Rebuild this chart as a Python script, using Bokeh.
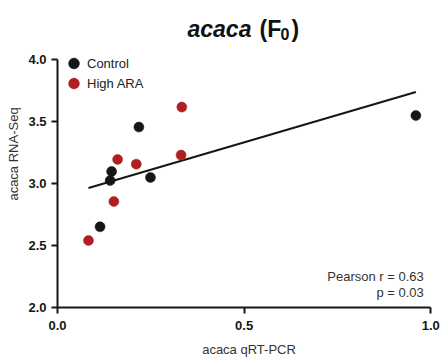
import numpy as np
from bokeh.plotting import figure
from bokeh.models import Range1d, Label, Legend, LegendItem, FixedTicker, NumeralTickFormatter
from bokeh.embed import file_html
from bokeh.resources import INLINE

# ---- data ----
control_x = [0.960, 0.218, 0.249, 0.145, 0.141, 0.114]
control_y = [3.548, 3.455, 3.048, 3.097, 3.024, 2.651]
ara_x = [0.333, 0.331, 0.161, 0.211, 0.151, 0.083]
ara_y = [3.616, 3.229, 3.194, 3.156, 2.855, 2.540]
series_names = ["Control", "High ARA"]
x_ticks = [0.0, 0.5, 1.0]
y_ticks = [2.0, 2.5, 3.0, 3.5, 4.0]
title_parts = ["acaca", "(F", "0", ")"]
stats_lines = ["Pearson r = 0.63", "p = 0.03"]
x_label = "acaca qRT-PCR"
y_label = "acaca RNA-Seq"

BLACK = "#161616"
RED = "#B11E22"
FONT = "Liberation Sans"

# regression line from the data
all_x = np.array(control_x + ara_x)
all_y = np.array(control_y + ara_y)
slope, intercept = np.polyfit(all_x, all_y, 1)
fit_x = [float(all_x.min()), float(all_x.max())]
fit_y = [slope * v + intercept for v in fit_x]

W, H = 440, 359
LEFT, BOTTOM = 57, 52
PAGE_X, PAGE_Y = 0, 0        # where the canvas lands in the photographed picture
X0_PX = PAGE_X + LEFT        # x = 0.0
X1_PX = 430.3                # x = 1.0
Y0_PX = PAGE_Y + H - BOTTOM  # y = 2.0
PX_PER_Y = 124.0

def px_to_x(px):
    return (px - X0_PX) / (X1_PX - X0_PX)

def py_to_y(py):
    return 2 + (Y0_PX - py) / PX_PER_Y

x_end = px_to_x(PAGE_X + W)
y_end = py_to_y(PAGE_Y)

p = figure(width=W, height=H, x_range=Range1d(0, x_end), y_range=Range1d(2, y_end),
           output_backend="svg", toolbar_location=None,
           min_border_left=LEFT, min_border_right=0, min_border_top=0, min_border_bottom=BOTTOM)
p.outline_line_color = None
p.grid.grid_line_color = None

for ax, ticks in ((p.xaxis, x_ticks), (p.yaxis, y_ticks)):
    ax.ticker = FixedTicker(ticks=ticks, minor_ticks=[])
    ax.bounds = (ticks[0], ticks[-1])
    ax.formatter = NumeralTickFormatter(format="0.0")
    ax.axis_line_width = 2
    ax.axis_line_color = BLACK
    ax.major_tick_line_width = 2
    ax.major_tick_line_color = BLACK
    ax.major_tick_out = 6
    ax.major_tick_in = 0
    ax.minor_tick_out = 0
    ax.minor_tick_in = 0
    ax.major_label_text_font = FONT
    ax.major_label_text_font_style = "bold"
    ax.major_label_text_font_size = "13px"
    ax.major_label_text_color = BLACK
    ax.axis_label_text_font = FONT
    ax.axis_label_text_font_style = "normal"
    ax.axis_label_text_font_size = "13px"
    ax.axis_label_text_color = "#333333"

p.xaxis.axis_label = x_label
p.yaxis.axis_label = y_label
p.xaxis.major_label_standoff = 7
p.xaxis.axis_label_standoff = 9
p.yaxis.major_label_standoff = 5
p.yaxis.axis_label_standoff = 4

p.line(fit_x, fit_y, line_color=BLACK, line_width=2)
r1 = p.scatter(control_x, control_y, size=10, fill_color=BLACK, line_color=BLACK, line_width=0.5)
r2 = p.scatter(ara_x, ara_y, size=10, fill_color=RED, line_color=RED, line_width=0.5)

# one legend per item so the items can sit 20px apart with large markers
for name, rend, bottom in ((series_names[0], r1, 229), (series_names[1], r2, 209)):
    lg = Legend(items=[LegendItem(label=name, renderers=[rend])], location=(3, bottom))
    lg.background_fill_alpha = 0
    lg.border_line_color = None
    lg.padding = 0
    lg.margin = 0
    lg.spacing = 0
    lg.glyph_width = 27
    lg.glyph_height = 30
    lg.label_height = 30
    lg.label_standoff = 0
    lg.label_text_font = FONT
    lg.label_text_font_size = "13px"
    lg.label_text_color = "#222222"
    p.add_layout(lg)

title_specs = [
    (title_parts[0], 187, 28.5, "23px", "bold italic"),
    (title_parts[1], 259, 28.5, "23px", "bold"),
    (title_parts[2], 280, 33.3, "16px", "bold"),
    (title_parts[3], 291, 28.5, "23px", "bold"),
]
for txt, px, py, fs, st in title_specs:
    p.add_layout(Label(x=px_to_x(px), y=py_to_y(py), text=txt, text_font=FONT,
                       text_font_size=fs, text_font_style=st, text_color="#111111",
                       text_align="left", text_baseline="alphabetic"))

for txt, py in zip(stats_lines, (276.0, 291.7)):
    p.add_layout(Label(x=px_to_x(423.3), y=py_to_y(py), text=txt, text_font=FONT,
                       text_font_size="13px", text_color="#333333",
                       text_align="right", text_baseline="alphabetic"))

open("out.html", "w").write(file_html(p, INLINE))
